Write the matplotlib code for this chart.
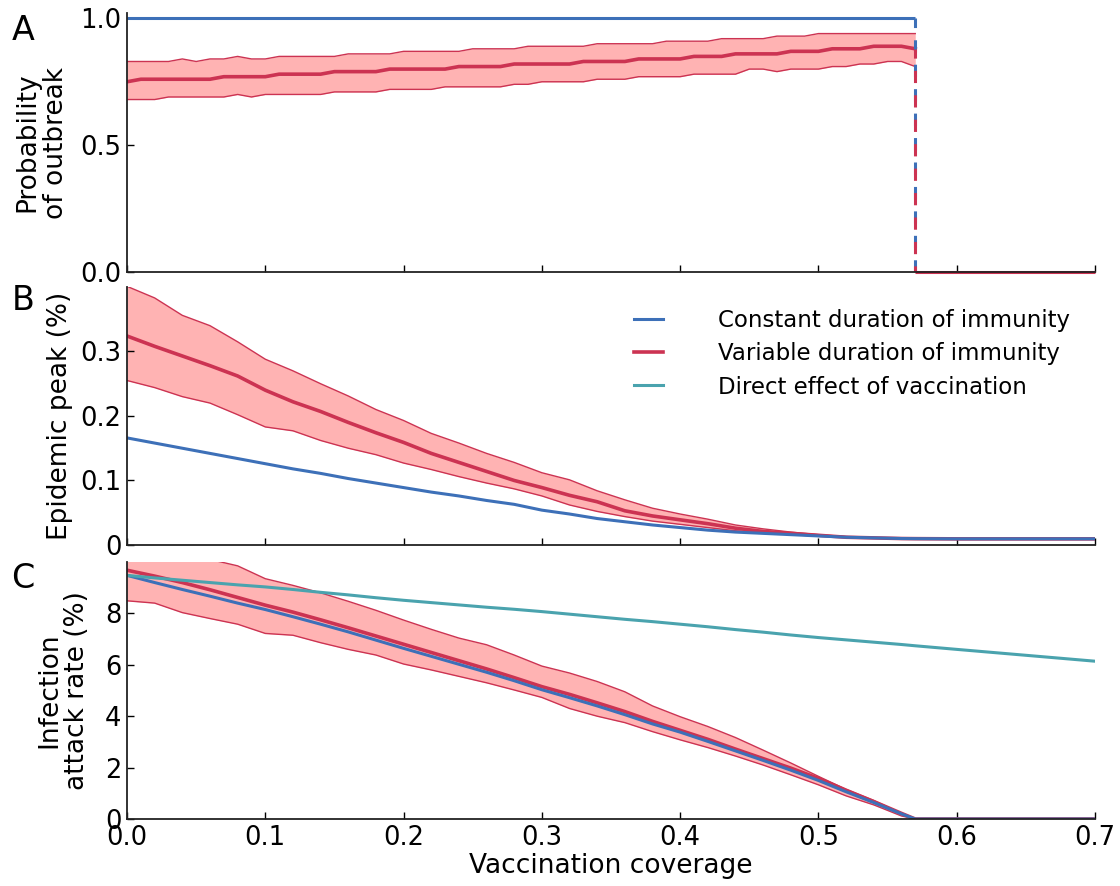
import numpy as np
import matplotlib.pyplot as plt

# --- panel A: probability of outbreak (simulations every 0.01 of coverage) ---
cov_a = np.round(np.arange(0, 0.571, 0.01), 2)
vc_threshold = 0.57
const_prob = 1.0

prob_med = [0.75, 0.76, 0.76, 0.76, 0.76, 0.76, 0.76, 0.77, 0.77, 0.77,
            0.77, 0.78, 0.78, 0.78, 0.78, 0.79, 0.79, 0.79, 0.79, 0.80,
            0.80, 0.80, 0.80, 0.80, 0.81, 0.81, 0.81, 0.81, 0.82, 0.82,
            0.82, 0.82, 0.82, 0.83, 0.83, 0.83, 0.83, 0.84, 0.84, 0.84,
            0.84, 0.85, 0.85, 0.85, 0.86, 0.86, 0.86, 0.86, 0.87, 0.87,
            0.87, 0.88, 0.88, 0.88, 0.89, 0.89, 0.89, 0.88]
prob_hi = [0.83, 0.83, 0.83, 0.83, 0.84, 0.83, 0.84, 0.84, 0.85, 0.84,
           0.84, 0.85, 0.85, 0.85, 0.85, 0.85, 0.86, 0.86, 0.86, 0.86,
           0.87, 0.87, 0.87, 0.87, 0.87, 0.88, 0.88, 0.88, 0.88, 0.89,
           0.89, 0.89, 0.89, 0.89, 0.90, 0.90, 0.90, 0.90, 0.90, 0.91,
           0.91, 0.91, 0.91, 0.92, 0.92, 0.92, 0.92, 0.93, 0.93, 0.93,
           0.94, 0.94, 0.94, 0.94, 0.94, 0.94, 0.94, 0.94]
prob_lo = [0.68, 0.68, 0.68, 0.69, 0.69, 0.69, 0.69, 0.69, 0.70, 0.69,
           0.70, 0.70, 0.70, 0.70, 0.70, 0.71, 0.71, 0.71, 0.71, 0.72,
           0.72, 0.72, 0.72, 0.73, 0.73, 0.73, 0.73, 0.73, 0.74, 0.74,
           0.75, 0.75, 0.75, 0.75, 0.76, 0.76, 0.76, 0.77, 0.77, 0.77,
           0.77, 0.78, 0.78, 0.78, 0.78, 0.80, 0.80, 0.79, 0.80, 0.80,
           0.80, 0.81, 0.81, 0.82, 0.82, 0.83, 0.83, 0.81]

# --- panels B and C ---
cov = [0.00, 0.02, 0.04, 0.06, 0.08, 0.10, 0.12, 0.14, 0.16, 0.18,
       0.20, 0.22, 0.24, 0.26, 0.28, 0.30, 0.32, 0.34, 0.36, 0.38,
       0.40, 0.42, 0.44, 0.46, 0.48, 0.50, 0.52, 0.54, 0.56, 0.57,
       0.60, 0.65, 0.70]

peak_const = [0.166, 0.158, 0.150, 0.142, 0.134, 0.126, 0.118, 0.111, 0.103, 0.096,
              0.089, 0.082, 0.076, 0.069, 0.063, 0.054, 0.048, 0.041, 0.036, 0.031,
              0.027, 0.023, 0.020, 0.018, 0.016, 0.014, 0.012, 0.011, 0.010, 0.0098,
              0.0095, 0.0095, 0.0095]
peak_med = [0.324, 0.308, 0.293, 0.278, 0.262, 0.240, 0.222, 0.207, 0.190, 0.174,
            0.159, 0.142, 0.128, 0.114, 0.100, 0.089, 0.077, 0.067, 0.053, 0.045,
            0.039, 0.033, 0.026, 0.021, 0.018, 0.015, 0.012, 0.011, 0.010, 0.0098,
            0.0095, 0.0095, 0.0095]
peak_hi = [0.401, 0.383, 0.356, 0.340, 0.315, 0.288, 0.270, 0.250, 0.231, 0.210,
           0.193, 0.173, 0.158, 0.142, 0.128, 0.112, 0.101, 0.084, 0.070, 0.057,
           0.048, 0.040, 0.031, 0.025, 0.020, 0.016, 0.013, 0.011, 0.010, 0.0098,
           0.0095, 0.0095, 0.0095]
peak_lo = [0.255, 0.244, 0.230, 0.220, 0.202, 0.183, 0.177, 0.162, 0.150, 0.140,
           0.127, 0.117, 0.106, 0.096, 0.087, 0.076, 0.062, 0.052, 0.044, 0.037,
           0.032, 0.027, 0.022, 0.019, 0.016, 0.014, 0.012, 0.0105, 0.0098, 0.0095,
           0.0095, 0.0095, 0.0095]

ar_const = [9.48, 9.20, 8.93, 8.67, 8.40, 8.15, 7.87, 7.58, 7.28, 6.96,
            6.64, 6.33, 6.02, 5.71, 5.38, 5.03, 4.72, 4.40, 4.06, 3.70,
            3.38, 3.02, 2.65, 2.28, 1.90, 1.50, 1.06, 0.64, 0.20, 0.0,
            0.0, 0.0, 0.0]
ar_med = [9.68, 9.45, 9.20, 8.92, 8.62, 8.32, 8.05, 7.75, 7.44, 7.12,
          6.80, 6.48, 6.16, 5.84, 5.50, 5.15, 4.85, 4.52, 4.18, 3.80,
          3.45, 3.10, 2.72, 2.35, 1.98, 1.58, 1.12, 0.68, 0.22, 0.0,
          0.0, 0.0, 0.0]
ar_hi = [10.4, 10.3, 10.2, 10.1, 9.85, 9.35, 9.09, 8.80, 8.47, 8.12,
         7.74, 7.38, 7.04, 6.78, 6.38, 5.95, 5.68, 5.35, 4.95, 4.40,
         3.98, 3.60, 3.17, 2.68, 2.18, 1.66, 1.15, 0.72, 0.22, 0.0,
         0.0, 0.0, 0.0]
ar_lo = [8.49, 8.40, 8.03, 7.80, 7.58, 7.22, 7.15, 6.86, 6.60, 6.38,
         6.03, 5.80, 5.55, 5.30, 5.02, 4.73, 4.30, 4.00, 3.75, 3.40,
         3.08, 2.78, 2.45, 2.10, 1.72, 1.33, 0.90, 0.55, 0.12, 0.0,
         0.0, 0.0, 0.0]
ar_direct = [9.48, 9.38, 9.29, 9.20, 9.11, 9.03, 8.93, 8.82, 8.72, 8.61,
             8.51, 8.42, 8.33, 8.24, 8.16, 8.07, 7.97, 7.87, 7.77, 7.68,
             7.58, 7.48, 7.37, 7.27, 7.16, 7.06, 6.97, 6.88, 6.79, 6.74,
             6.60, 6.37, 6.14]

blue = '#3d70b8'
red = '#cc3352'
pink = '#ffb3b3'
teal = '#4aa3ae'

plt.rcParams['font.family'] = 'DejaVu Sans'
fig = plt.figure(figsize=(11.2, 8.86), dpi=100)
axA = fig.add_axes([0.1134, 0.693, 0.8643, 0.292])
axB = fig.add_axes([0.1134, 0.3849, 0.8643, 0.2912])
axC = fig.add_axes([0.1134, 0.0756, 0.8643, 0.2901])


def style(ax):
    for s in ['top', 'right']:
        ax.spines[s].set_visible(False)
    for s in ['left', 'bottom']:
        ax.spines[s].set_linewidth(1.3)
        ax.spines[s].set_color('#222222')
    ax.tick_params(direction='in', length=5, width=1, labelsize=18.5,
                   top=False, right=False, pad=4)
    ax.set_xlim(0, 0.7)
    ax.set_xticks(np.arange(0, 0.71, 0.1))


def band(ax, x, lo, med, hi):
    ax.fill_between(x, lo, hi, color=pink, lw=0)
    ax.plot(x, lo, color=red, lw=1)
    ax.plot(x, hi, color=red, lw=1)
    ax.plot(x, med, color=red, lw=2.6)


# A
style(axA)
band(axA, cov_a, prob_lo, prob_med, prob_hi)
axA.hlines(const_prob, 0, vc_threshold, color=blue, lw=2.2, clip_on=False)
axA.vlines(vc_threshold, 0, const_prob, color=blue, lw=2.2, linestyles=(0, (4, 4)))
axA.vlines(vc_threshold, 0, prob_med[-1], color=red, lw=2.2, linestyles=(2, (4, 4)))
axA.hlines(0, vc_threshold, 0.7, color=red, lw=2.2, clip_on=False)
axA.set_ylim(0, 1.02)
axA.set_yticks([0, 0.5, 1.0])
axA.set_yticklabels(['0.0', '0.5', '1.0'])
axA.set_xticklabels([])
axA.set_ylabel('Probability\nof outbreak', fontsize=19, va='center', linespacing=1.1)
axA.yaxis.set_label_coords(-0.088, 0.5)

# B
style(axB)
band(axB, cov, peak_lo, peak_med, peak_hi)
axB.plot(cov, peak_const, color=blue, lw=2.2)
axB.set_ylim(0, 0.4)
axB.set_yticks([0, 0.1, 0.2, 0.3])
axB.set_yticklabels(['0', '0.1', '0.2', '0.3'])
axB.set_xticklabels([])
axB.set_ylabel('Epidemic peak (%)', fontsize=19, va='center')
axB.yaxis.set_label_coords(-0.069, 0.5)
handles = [plt.Line2D([], [], color=blue, lw=2.2),
           plt.Line2D([], [], color=red, lw=2.6),
           plt.Line2D([], [], color=teal, lw=2.2)]
axB.legend(handles, ['Constant duration of immunity',
                     'Variable duration of immunity',
                     'Direct effect of vaccination'],
           loc='upper right', bbox_to_anchor=(0.995, 0.995), frameon=False,
           fontsize=16.5, handlelength=1.25, handletextpad=2.4, labelspacing=0.45)

# C
style(axC)
band(axC, cov, ar_lo, ar_med, ar_hi)
axC.plot(cov, ar_const, color=blue, lw=2.2)
axC.plot(cov, ar_direct, color=teal, lw=2.2)
axC.set_ylim(0, 10)
axC.set_yticks([0, 2, 4, 6, 8])
axC.set_ylabel('Infection\nattack rate (%)', fontsize=19, va='center', linespacing=1.1)
axC.yaxis.set_label_coords(-0.066, 0.5)
axC.set_xlabel('Vaccination coverage', fontsize=19, labelpad=2)

for letter, ypix in [('A', 30), ('B', 300), ('C', 578)]:
    fig.text(23 / 1120, 1 - ypix / 886, letter, fontsize=24, ha='center', va='center')

fig.savefig('out.png', dpi=100)
